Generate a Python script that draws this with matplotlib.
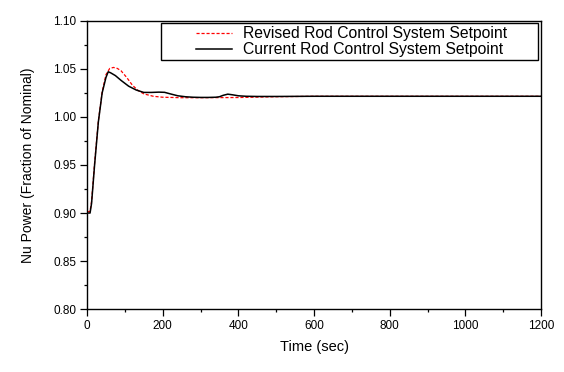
import matplotlib
matplotlib.use("Agg")
import matplotlib.pyplot as plt
from matplotlib.ticker import MultipleLocator, FormatStrFormatter
from matplotlib.legend_handler import HandlerLine2D
from matplotlib.lines import Line2D

plt.rcParams['font.family'] = ['Liberation Sans', 'DejaVu Sans']

# Current rod control system setpoint response
t_current = [0, 8, 12, 20, 30, 40, 50, 56, 62, 75, 90, 110, 130, 150, 170, 190,
             205, 220, 240, 260, 280, 300, 320, 340, 350, 360, 372, 385, 400,
             420, 450, 500, 600, 800, 1000, 1200]
p_current = [0.900, 0.900, 0.910, 0.950, 0.995, 1.025, 1.041, 1.047, 1.046,
             1.043, 1.038, 1.032, 1.028, 1.0255, 1.0255, 1.0258, 1.0256, 1.024,
             1.022, 1.021, 1.0205, 1.0203, 1.0203, 1.0205, 1.021, 1.0225,
             1.0237, 1.023, 1.022, 1.0215, 1.0213, 1.0213, 1.0215, 1.0215,
             1.0215, 1.0215]

# Revised rod control system setpoint response
t_revised = [0, 8, 12, 20, 30, 40, 50, 60, 70, 80, 90, 105, 120, 135, 150, 175,
             200, 250, 300, 400, 500, 600, 800, 1000, 1200]
p_revised = [0.901, 0.902, 0.912, 0.952, 0.996, 1.026, 1.044, 1.0505, 1.0515,
             1.0505, 1.048, 1.041, 1.033, 1.0275, 1.024, 1.0215, 1.0205, 1.020,
             1.020, 1.0202, 1.021, 1.0215, 1.0215, 1.0215, 1.0215]


class RightLineHandler(HandlerLine2D):
    """Legend line drawn only in the right part of the handle box."""
    def create_artists(self, legend, orig_handle, xdescent, ydescent,
                       width, height, fontsize, trans):
        y = height / 2.0 - ydescent
        x0 = -xdescent + 0.46 * width
        x1 = -xdescent + width
        line = Line2D([x0, x1], [y, y])
        self.update_prop(line, orig_handle, legend)
        line.set_transform(trans)
        return [line]


fig = plt.figure(figsize=(5.64, 3.72), dpi=100)
ax = fig.add_axes([0.1543, 0.169, 0.805, 0.775])

ax.plot(t_revised, p_revised, color='red', lw=0.9, dashes=(2.5, 1.5),
        label='Revised Rod Control System Setpoint')
ax.plot(t_current, p_current, color='black', lw=1.1,
        label='Current Rod Control System Setpoint')

ax.set_xlim(0, 1200)
ax.set_ylim(0.80, 1.10)
ax.xaxis.set_major_locator(MultipleLocator(200))
ax.xaxis.set_minor_locator(MultipleLocator(100))
ax.yaxis.set_major_locator(MultipleLocator(0.05))
ax.yaxis.set_minor_locator(MultipleLocator(0.025))
ax.yaxis.set_major_formatter(FormatStrFormatter('%.2f'))
ax.tick_params(which='both', direction='out', top=False, right=False,
               labelsize=8.5, width=0.9, colors='black', pad=3)
ax.tick_params(which='major', length=4.8)
ax.tick_params(which='minor', length=2.3)
for s in ax.spines.values():
    s.set_linewidth(1.0)

ax.set_xlabel('Time (sec)', fontsize=10.5, labelpad=6)
ax.set_ylabel('Nu Power (Fraction of Nominal)', fontsize=10, labelpad=13)

handles, labels = ax.get_legend_handles_labels()
leg = ax.legend(handles, labels, loc='upper left',
                bbox_to_anchor=(0.163, 0.0, 0.830, 0.992), mode='expand',
                fontsize=11.3, frameon=True, fancybox=False,
                edgecolor='black', framealpha=1, borderpad=0.2,
                handlelength=4.35, handletextpad=0.65, labelspacing=0.05,
                borderaxespad=0.0,
                handler_map={Line2D: RightLineHandler()})
leg.get_frame().set_linewidth(1.0)

fig.savefig('out.png', dpi=100)
